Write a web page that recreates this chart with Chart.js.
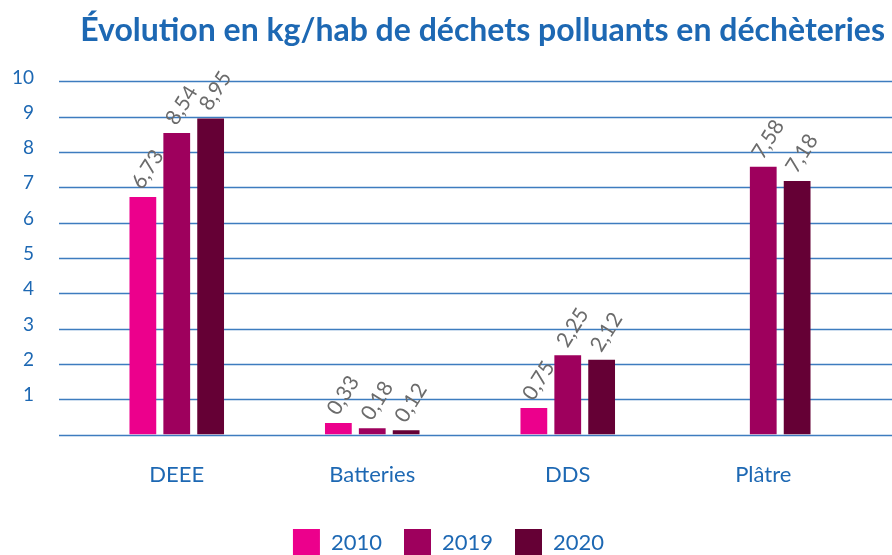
<!DOCTYPE html>
<html>
<head>
<meta charset="utf-8">
<script src="https://cdn.jsdelivr.net/npm/chart.js@4"></script>
<style>
  html, body { margin: 0; padding: 0; background: #fff; overflow: hidden; }
  #wrap { width: 892px; height: 566px; }
</style>
</head>
<body>
<div id="wrap"><canvas id="chart"></canvas></div>
<script>
// categories and series
const categories = ['DEEE', 'Batteries', 'DDS', 'Plâtre']
const years = ['2010', '2019', '2020']
const values2010 = [6.73, 0.33, 0.75, null]
const values2019 = [8.54, 0.18, 2.25, 7.58]
const values2020 = [8.95, 0.12, 2.12, 7.18]
const yearColors = ['#ec008c', '#9e005d', '#650035']

const blue = '#1d68b3'
const font = 'Lato, "Open Sans", sans-serif'

// horizontal grid lines running the whole width, like the original
const wideGrid = {
    id: 'wideGrid',
    beforeDatasetsDraw(chart) {
        const ctx = chart.ctx
        const y = chart.scales.y
        ctx.save()
        ctx.strokeStyle = '#3d7cbf'
        ctx.lineWidth = 1.6
        y.ticks.forEach(t => {
            const py = Math.round(y.getPixelForValue(t.value)) + 0.5
            ctx.beginPath()
            ctx.moveTo(59, py)
            ctx.lineTo(chart.width, py)
            ctx.stroke()
        })
        ctx.restore()
    }
}

// rotated value labels above each bar
const valueLabels = {
    id: 'valueLabels',
    afterDatasetsDraw(chart) {
        const ctx = chart.ctx
        ctx.save()
        ctx.fillStyle = '#6b6b6b'
        ctx.font = '21px ' + font
        ctx.textAlign = 'left'
        ctx.textBaseline = 'middle'
        chart.data.datasets.forEach((ds, i) => {
            chart.getDatasetMeta(i).data.forEach((bar, j) => {
                const v = ds.data[j]
                if (v == null) return
                ctx.save()
                ctx.translate(bar.x - 6, bar.y - 10)
                ctx.rotate(-58 * Math.PI / 180)
                ctx.fillText(v.toFixed(2).replace('.', ','), 0, 0)
                ctx.restore()
            })
        })
        ctx.restore()
    }
}

const series = [values2010, values2019, values2020]

new Chart(document.getElementById('chart'), {
    type: 'bar',
    data: {
        labels: categories,
        datasets: years.map((y, i) => ({
            label: y,
            data: series[i],
            backgroundColor: yearColors[i],
            categoryPercentage: 0.52,
            barPercentage: 0.79
        }))
    },
    options: {
        responsive: true,
        maintainAspectRatio: false,
        animation: false,
        layout: { padding: { left: 12, right: 7, top: 6, bottom: 0 } },
        scales: {
            x: {
                grid: { display: false },
                border: { display: false },
                ticks: { color: blue, font: { family: font, size: 22 }, padding: 19 }
            },
            y: {
                min: 0,
                max: 10,
                grid: { display: false, drawTicks: false },
                border: { display: false },
                afterFit: s => { s.width = 67 },
                ticks: {
                    stepSize: 1,
                    color: blue,
                    font: { family: font, size: 19 },
                    padding: 45,
                    labelOffset: -4,
                    callback: v => v === 0 ? '' : v
                }
            },
            yRight: {
                position: 'right',
                grid: { display: false },
                border: { display: false },
                ticks: { display: false },
                afterFit: s => { s.width = 24 }
            }
        },
        plugins: {
            title: {
                display: true,
                text: 'Évolution en kg/hab de déchets polluants en déchèteries',
                align: 'end',
                color: blue,
                font: { family: font, size: 32, weight: 'bold' },
                padding: { top: 5, bottom: 32 }
            },
            legend: {
                position: 'bottom',
                labels: {
                    color: blue,
                    font: { family: font, size: 22 },
                    boxWidth: 27,
                    boxHeight: 27,
                    padding: 22
                }
            },
            tooltip: { enabled: false }
        }
    },
    plugins: [wideGrid, valueLabels]
})
</script>
</body>
</html>
